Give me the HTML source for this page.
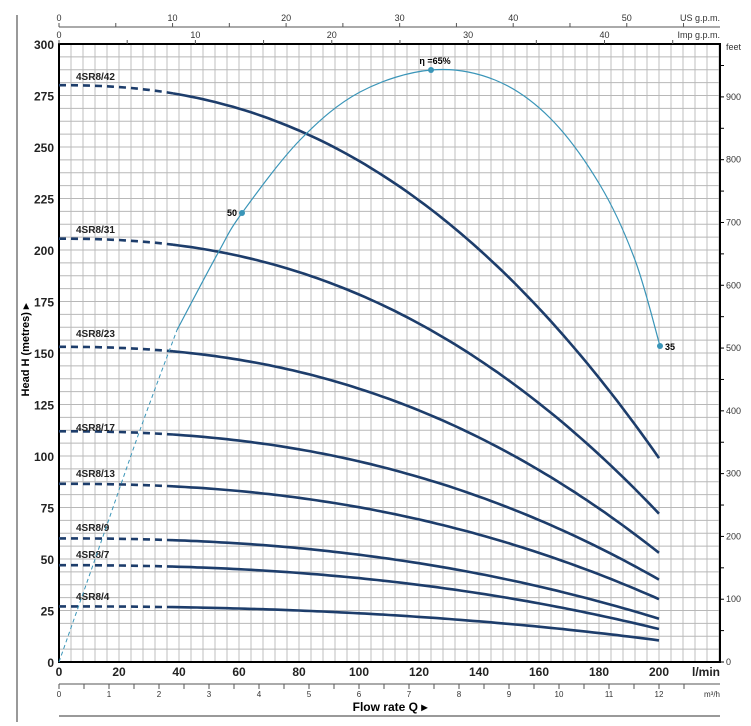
<!DOCTYPE html>
<html><head><meta charset="utf-8"><style>
body{margin:0;background:#fff;}
svg{display:block;font-family:"Liberation Sans",sans-serif;}
</style></head><body>
<svg id="s" width="751" height="726" viewBox="0 0 751 726" xmlns="http://www.w3.org/2000/svg"></svg>
<script>
const s=document.getElementById('s');
let h='';
const X0=59,Y0=662,XR=720,YT=44;
const X=q=>X0+q*3, Y=m=>Y0-m*2.06;
// grid
for(let x=X0;x<=XR;x+=12) h+=`<line x1="${x}" y1="${YT}" x2="${x}" y2="${Y0}" stroke="#b8b8b8" stroke-width="0.9"/>`;
for(let i=0;i<=48;i++){const y=Y0-i*12.875; h+=`<line x1="${X0}" y1="${y}" x2="${XR}" y2="${y}" stroke="#b8b8b8" stroke-width="0.9"/>`;}
h+=`<rect x="${X0}" y="${YT}" width="${XR-X0}" height="${Y0-YT}" fill="none" stroke="#000" stroke-width="2"/>`;
h+=`<line x1="17" y1="15" x2="17" y2="722" stroke="#333" stroke-width="1"/>`;
for(let m=0;m<=300;m+=25) h+=`<text x="54" y="${Y(m)+5}" text-anchor="end" font-size="12" font-weight="bold" fill="#222">${m}</text>`;
h+=`<text transform="translate(29,350) rotate(-90)" text-anchor="middle" font-size="11" font-weight="bold">Head H (metres) ▸</text>`;
for(let f=0;f<=950;f+=50){const y=Y0-f*0.3048*2.06;h+=`<line x1="${XR}" y1="${y}" x2="${XR+4}" y2="${y}" stroke="#000"/>`; if(f%100==0)h+=`<text x="${XR+6}" y="${y+3}" font-size="9" fill="#333">${f}</text>`;}
h+=`<text x="726" y="50" font-size="9" fill="#333">feet</text>`;
h+=`<line x1="${X0}" y1="27" x2="720" y2="27" stroke="#555"/>`;
for(let g=0;g<=58;g+=5){const x=X0+g*3.785*3;if(x>720)break;h+=`<line x1="${x}" y1="23" x2="${x}" y2="27" stroke="#555"/>`;if(g%10==0)h+=`<text x="${x}" y="21" text-anchor="middle" font-size="9" fill="#333">${g}</text>`;}
h+=`<text x="720" y="21" text-anchor="end" font-size="9" fill="#333">US g.p.m.</text>`;
for(let g=0;g<=48;g+=5){const x=X0+g*4.546*3;if(x>720)break;h+=`<line x1="${x}" y1="40" x2="${x}" y2="44" stroke="#555"/>`;if(g%10==0)h+=`<text x="${x}" y="38" text-anchor="middle" font-size="9" fill="#333">${g}</text>`;}
h+=`<text x="720" y="38" text-anchor="end" font-size="9" fill="#333">Imp g.p.m.</text>`;
for(let q=0;q<=200;q+=20)h+=`<text x="${X(q)}" y="676" text-anchor="middle" font-size="12" font-weight="bold" fill="#222">${q}</text>`;
h+=`<text x="720" y="676" text-anchor="end" font-size="12" font-weight="bold" fill="#222">l/min</text>`;
h+=`<line x1="${X0}" y1="684" x2="720" y2="684" stroke="#555"/>`;
for(let m=0;m<=13;m+=0.5){const x=X0+m*50;if(x>705)break;h+=`<line x1="${x}" y1="684" x2="${x}" y2="689" stroke="#555"/>`;if(m%1==0)h+=`<text x="${x}" y="697" text-anchor="middle" font-size="8" fill="#333">${m}</text>`;}
h+=`<text x="720" y="697" text-anchor="end" font-size="8" fill="#333">m³/h</text>`;
h+=`<text x="390" y="711" text-anchor="middle" font-size="12" font-weight="bold">Flow rate Q ▸</text>`;
h+=`<line x1="${X0}" y1="716" x2="720" y2="716" stroke="#333"/>`;
const P=[["4SR8/42",280,99,80],["4SR8/31",205.5,72,233],["4SR8/23",153,53,337],["4SR8/17",112,40,431],["4SR8/13",86.5,30.5,477],["4SR8/9",60,21,531],["4SR8/7",47,16,558],["4SR8/4",27,10.5,600]];
const pts=(a,b,H0,He)=>{let r=[];for(let q=a;q<=b;q+=2){r.push(X(q).toFixed(1)+','+Y(H0-(H0-He)*Math.pow(q/200,2.3)).toFixed(1));}return r.join(' ');};
for(const [n,H0,He,ly] of P){
 h+=`<polyline points="${pts(0,38,H0,He)}" fill="none" stroke="#1d3d6b" stroke-width="2.6" stroke-dasharray="7,5"/>`;
 h+=`<polyline points="${pts(38,200,H0,He)}" fill="none" stroke="#1d3d6b" stroke-width="2.6"/>`;
 h+=`<text x="76" y="${ly}" font-size="10" font-weight="bold" fill="#222">${n}</text>`;
}
const E=[[59,662],[100,545],[140,430],[177,330],[218,253],[242,213],[300,140],[360,92],[431,70],[495,80],[550,118],[600,185],[635,260],[660,346]];
function cr(p){let d=`M${p[0][0]},${p[0][1]}`;for(let i=0;i<p.length-1;i++){const p0=p[i-1]||p[i],p1=p[i],p2=p[i+1],p3=p[i+2]||p2;d+=` C${p1[0]+(p2[0]-p0[0])/6},${p1[1]+(p2[1]-p0[1])/6} ${p2[0]-(p3[0]-p1[0])/6},${p2[1]-(p3[1]-p1[1])/6} ${p2[0]},${p2[1]}`;}return d;}
h+=`<path d="${cr(E.slice(0,4))}" fill="none" stroke="#3a95b8" stroke-width="1" stroke-dasharray="4,3"/>`;
h+=`<path d="${cr(E.slice(3))}" fill="none" stroke="#3a95b8" stroke-width="1.2"/>`;
for(const [x,y] of [[242,213],[431,70],[660,346]])h+=`<circle cx="${x}" cy="${y}" r="3" fill="#3a95b8"/>`;
h+=`<text x="237" y="216" text-anchor="end" font-size="9" font-weight="bold">50</text>`;
h+=`<text x="665" y="350" font-size="9" font-weight="bold">35</text>`;
h+=`<text x="435" y="64" text-anchor="middle" font-size="9" font-weight="bold">η =65%</text>`;
s.innerHTML=h;
</script>
</body></html>
